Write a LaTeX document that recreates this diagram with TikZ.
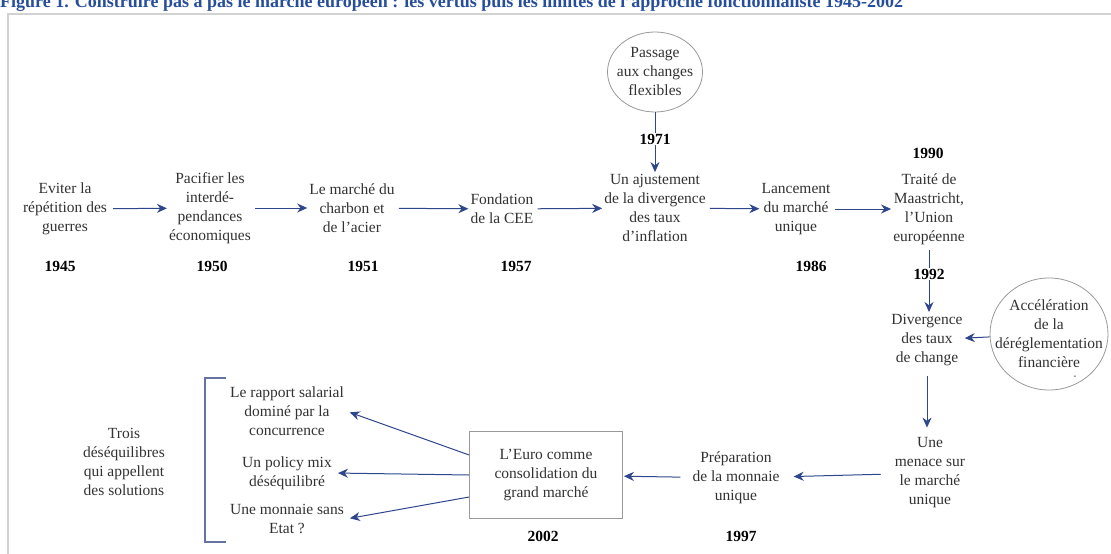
\documentclass[tikz,border=0pt]{standalone}
\usepackage{fontspec}
\setmainfont{Liberation Serif}
\usetikzlibrary{arrows.meta,shapes.geometric}

\definecolor{flowblue}{RGB}{46,70,140}
\definecolor{inkgray}{RGB}{50,50,50}
\definecolor{titleblue}{RGB}{38,78,155}
\definecolor{bracketblue}{RGB}{100,115,160}

\tikzset{
	stage/.style={align=center, text=inkgray, inner sep=2pt, font=\fontsize{15.5}{19}\selectfont},
	yearlbl/.style={inner sep=1pt, font=\fontsize{15.5}{19}\selectfont\bfseries},
	flow/.style={draw=flowblue, line width=1pt, -{Stealth[length=10pt,width=9pt]}},
	bubble/.style={stage, ellipse, draw=gray!80, line width=0.8pt, inner xsep=-30pt, inner ysep=0pt},
}

\begin{document}
\begin{tikzpicture}[x=1pt, y=-1pt]
	\useasboundingbox (0,0) rectangle (1111,554);

	% title and frame
	\node[anchor=base west, inner sep=0pt, text=titleblue, font=\fontsize{18}{20}\selectfont\bfseries] (titre) at (0,7) {Figure 1. Construire pas à pas le marché européen : les vertus puis les limites de l'approche fonctionnaliste 1945-2002};
	\draw[gray!35, line width=2pt] (8,570) -- (8,14) -- (1130,14);

	% first row
	\node[stage] (guerres) at (65,209) {Eviter la\\répétition des\\guerres};
	\node[stage] (pacifier) at (210,208) {Pacifier les\\interdé-\\pendances\\économiques};
	\node[stage] (charbon) at (352,208) {Le marché du\\charbon et\\de l'acier};
	\node[stage] (cee) at (502,209) {Fondation\\de la CEE};
	\node[stage] (ajust) at (655,208) {Un ajustement\\de la divergence\\des taux\\d'inflation};
	\node[stage] (lancement) at (796,209) {Lancement\\du marché\\unique};
	\node[stage] (maastricht) at (929,209) {Traité de\\Maastricht,\\l'Union\\européenne};

	\draw[flow, shorten <=4pt] (guerres) -- (pacifier);
	\draw[flow, shorten <=2pt] (pacifier) -- (charbon);
	\draw[flow, shorten <=2pt] (charbon) -- (cee);
	\draw[flow, shorten <=2pt] (cee) -- (ajust);
	\draw[flow, shorten <=2pt] (ajust) -- (lancement);
	\draw[flow, shorten <=2pt] (lancement) -- (maastricht);

	% years
	\node[yearlbl] (y1945) at (60,266) {1945};
	\node[yearlbl] (y1950) at (212,266) {1950};
	\node[yearlbl] (y1951) at (363,266) {1951};
	\node[yearlbl] (y1957) at (516,266) {1957};
	\node[yearlbl] (y1986) at (811,266) {1986};
	\node[yearlbl] (y1990) at (928,153) {1990};

	% flexible exchange rates
	\node[bubble, minimum width=95pt, minimum height=80pt] (passage) at (655,72) {Passage\\aux changes\\flexibles};
	\draw[flow] (passage) -- node[yearlbl, fill=white, pos=0.45] (y1971) {1971} (ajust);

	% right column
	\node[stage] (divergence) at (927,340) {Divergence\\des taux\\de change};
	\node[bubble, minimum width=118pt, minimum height=112pt] (acceleration) at (1049,334) {Accélération\\de la\\déréglementation\\financière};
	\node[font=\fontsize{8}{8}\selectfont, inner sep=0pt] (tiret) at (1075,377) {-};
	\node[stage] (menace) at (930,473) {Une\\menace sur\\le marché\\unique};

	\draw[flow, shorten <=3pt] (maastricht.south) -- node[yearlbl, fill=white, pos=0.42] (y1992) {1992} (maastricht.south |- divergence.north);
	\draw[flow] (acceleration) -- (divergence);
	\draw[flow, shorten <=8pt, shorten >=8pt] (divergence.south) -- (divergence.south |- menace.north);

	% bottom row
	\node[stage] (preparation) at (736,478) {Préparation\\de la monnaie\\unique};
	\node[stage, draw=gray!80, line width=0.8pt, minimum width=153pt, minimum height=87pt] (euro) at (546,475) {L'Euro comme\\consolidation du\\grand marché};
	\node[yearlbl] (y1997) at (741,536) {1997};
	\node[yearlbl] (y2002) at (543,536) {2002};

	\draw[flow, shorten <=12pt, shorten >=12pt] (menace) -- (preparation);
	\draw[flow, shorten <=10pt, shorten >=1pt] (preparation) -- (euro);

	% three imbalances
	\node[stage] (rapport) at (287,411) {Le rapport salarial\\dominé par la\\concurrence};
	\node[stage] (policy) at (287,473) {Un policy mix\\déséquilibré};
	\node[stage] (monnaie) at (287,519) {Une monnaie sans\\Etat ?};
	\node[stage] (trois) at (124,462) {Trois\\déséquilibres\\qui appellent\\des solutions};
	\draw[bracketblue, line width=1.2pt] (226,378) -- (205,378) -- (205,542) -- (226,542);

	\draw[flow, shorten >=4pt] ([yshift=20pt]euro.west) -- (rapport.east);
	\draw[flow, shorten >=4pt] (euro.west) -- (policy.east);
	\draw[flow, shorten >=4pt] ([yshift=-22pt]euro.west) -- (monnaie.east);
\end{tikzpicture}
\end{document}
